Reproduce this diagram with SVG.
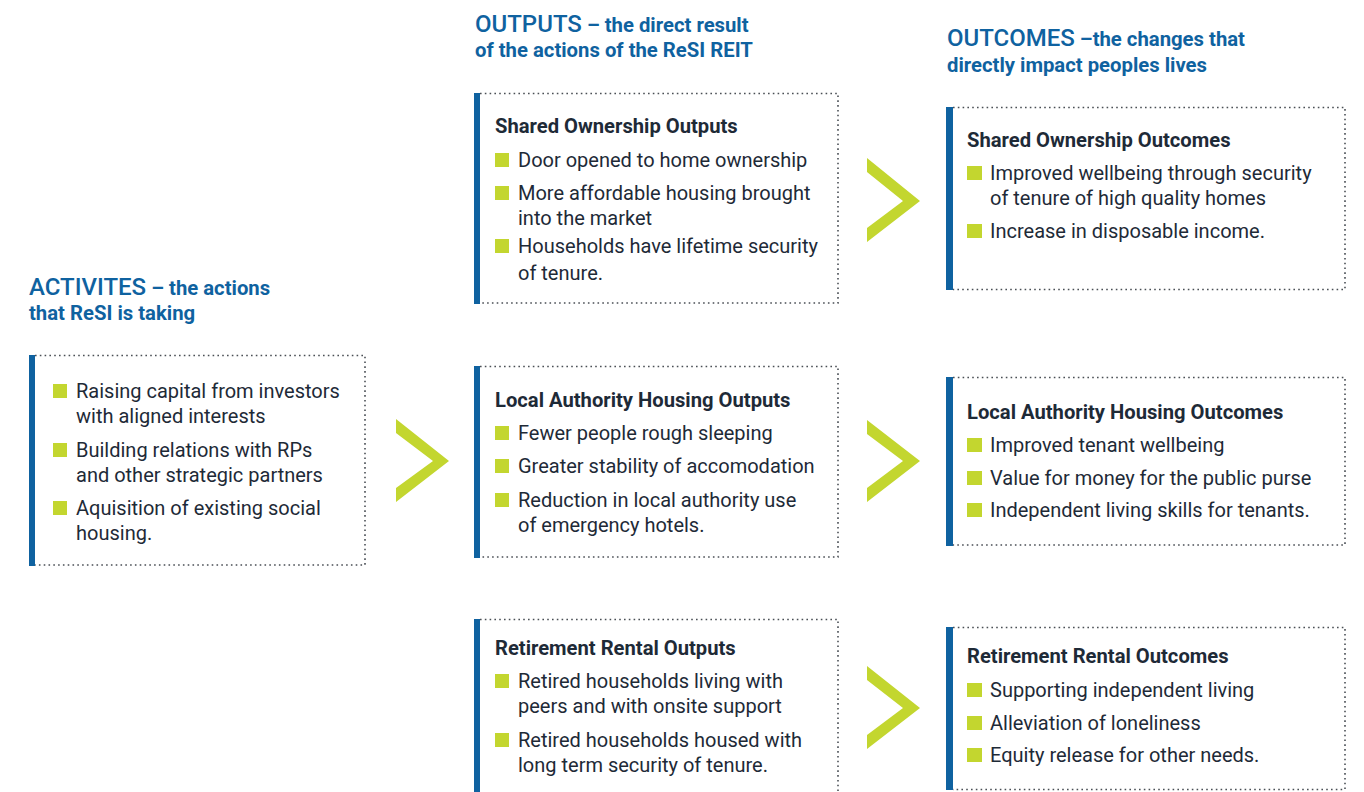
<svg xmlns="http://www.w3.org/2000/svg" width="1364" height="792" viewBox="0 0 1364 792">
<style>
.hd{font-family:Roboto,"Liberation Sans",sans-serif;fill:#0f62a0;}
.hb{font-size:24px;font-weight:500;}
.hs{font-size:20.3px;font-weight:700;}
.t{font-family:Roboto,"Liberation Sans",sans-serif;font-size:20px;fill:#1e2a37;}
.ti{font-family:Roboto,"Liberation Sans",sans-serif;font-size:20.2px;font-weight:700;fill:#1e2a37;}
.dot{fill:none;stroke:#4a4f55;stroke-width:1.6;stroke-dasharray:1.6 3.2;}
.bar{fill:#0f62a0;}
.bul{fill:#c3d62f;}
.chev{fill:#c3d62f;}
</style>
<rect width="1364" height="792" fill="#ffffff"/>

<g id="headers">
<text class="hd" x="29" y="295"><tspan class="hb">ACTIVITES</tspan><tspan class="hs"> – the actions</tspan></text>
<text class="hd hs" x="29" y="320">that ReSI is taking</text>
<text class="hd" x="475" y="32"><tspan class="hb">OUTPUTS</tspan><tspan class="hs"> – the direct result</tspan></text>
<text class="hd hs" x="475" y="57">of the actions of the ReSI REIT</text>
<text class="hd" x="947" y="46"><tspan class="hb">OUTCOMES</tspan><tspan class="hs"> –the changes that</tspan></text>
<text class="hd hs" x="947" y="72">directly impact peoples lives</text>
</g>

<g id="activities">
<path class="dot" d="M35 355.5 H365 V565 H35"/>
<rect class="bar" x="29" y="355" width="6" height="211"/>
<rect class="bul" x="53" y="384" width="14" height="14"/>
<text class="t" x="76" y="398">Raising capital from investors</text>
<text class="t" x="76" y="423">with aligned interests</text>
<rect class="bul" x="53" y="443" width="14" height="14"/>
<text class="t" x="76" y="457">Building relations with RPs</text>
<text class="t" x="76" y="482">and other strategic partners</text>
<rect class="bul" x="53" y="501" width="14" height="14"/>
<text class="t" x="76" y="515">Aquisition of existing social</text>
<text class="t" x="76" y="540">housing.</text>
</g>

<g id="outputs-shared">
<path class="dot" d="M480 93.5 H838 V303 H480"/>
<rect class="bar" x="474" y="93" width="6" height="211"/>
<text class="ti" x="495" y="133">Shared Ownership Outputs</text>
<rect class="bul" x="495" y="153" width="14" height="14"/>
<text class="t" x="518" y="167">Door opened to home ownership</text>
<rect class="bul" x="495" y="186" width="14" height="14"/>
<text class="t" x="518" y="200">More affordable housing brought</text>
<text class="t" x="518" y="225">into the market</text>
<rect class="bul" x="495" y="239" width="14" height="14"/>
<text class="t" x="518" y="253">Households have lifetime security</text>
<text class="t" x="518" y="280">of tenure.</text>
</g>

<g id="outputs-la">
<path class="dot" d="M480 366.5 H838 V557 H480"/>
<rect class="bar" x="474" y="366" width="6" height="192"/>
<text class="ti" x="495" y="407">Local Authority Housing Outputs</text>
<rect class="bul" x="495" y="426" width="14" height="14"/>
<text class="t" x="518" y="440">Fewer people rough sleeping</text>
<rect class="bul" x="495" y="459" width="14" height="14"/>
<text class="t" x="518" y="473">Greater stability of accomodation</text>
<rect class="bul" x="495" y="493" width="14" height="14"/>
<text class="t" x="518" y="507">Reduction in local authority use</text>
<text class="t" x="518" y="532">of emergency hotels.</text>
</g>

<g id="outputs-retirement">
<path class="dot" d="M480 619.5 H838 V800"/>
<rect class="bar" x="474" y="619" width="6" height="180"/>
<text class="ti" x="495" y="655">Retirement Rental Outputs</text>
<rect class="bul" x="495" y="674" width="14" height="14"/>
<text class="t" x="518" y="688">Retired households living with</text>
<text class="t" x="518" y="713">peers and with onsite support</text>
<rect class="bul" x="495" y="733" width="14" height="14"/>
<text class="t" x="518" y="747">Retired households housed with</text>
<text class="t" x="518" y="772">long term security of tenure.</text>
</g>

<g id="outcomes-shared">
<path class="dot" d="M953 107.5 H1345 V289.5 H953"/>
<rect class="bar" x="946" y="107" width="7" height="183"/>
<text class="ti" x="967" y="147">Shared Ownership Outcomes</text>
<rect class="bul" x="967" y="166" width="15" height="14"/>
<text class="t" x="990" y="180">Improved wellbeing through security</text>
<text class="t" x="990" y="205">of tenure of high quality homes</text>
<rect class="bul" x="967" y="224" width="15" height="14"/>
<text class="t" x="990" y="238">Increase in disposable income.</text>
</g>

<g id="outcomes-la">
<path class="dot" d="M953 377.5 H1345 V545 H953"/>
<rect class="bar" x="946" y="377" width="7" height="169"/>
<text class="ti" x="967" y="419">Local Authority Housing Outcomes</text>
<rect class="bul" x="967" y="438" width="15" height="14"/>
<text class="t" x="990" y="452">Improved tenant wellbeing</text>
<rect class="bul" x="967" y="471" width="15" height="14"/>
<text class="t" x="990" y="485">Value for money for the public purse</text>
<rect class="bul" x="967" y="503" width="15" height="14"/>
<text class="t" x="990" y="517">Independent living skills for tenants.</text>
</g>

<g id="outcomes-retirement">
<path class="dot" d="M953 627.5 H1345 V789.5 H953"/>
<rect class="bar" x="946" y="627" width="7" height="163"/>
<text class="ti" x="967" y="663">Retirement Rental Outcomes</text>
<rect class="bul" x="967" y="683" width="15" height="14"/>
<text class="t" x="990" y="697">Supporting independent living</text>
<rect class="bul" x="967" y="716" width="15" height="14"/>
<text class="t" x="990" y="730">Alleviation of loneliness</text>
<rect class="bul" x="967" y="748" width="15" height="14"/>
<text class="t" x="990" y="762">Equity release for other needs.</text>
</g>

<g id="connectors">
<polygon class="chev" points="396,419 449,461 396,502 396,488 433,461 396,433"/>
<polygon class="chev" points="867,158 920,201 867,242 867,228 903,201 867,172"/>
<polygon class="chev" points="867,420 920,461 867,502 867,488 903,461 867,434"/>
<polygon class="chev" points="867,666 920,708 867,749 867,735 903,708 867,680"/>
</g>
</svg>
